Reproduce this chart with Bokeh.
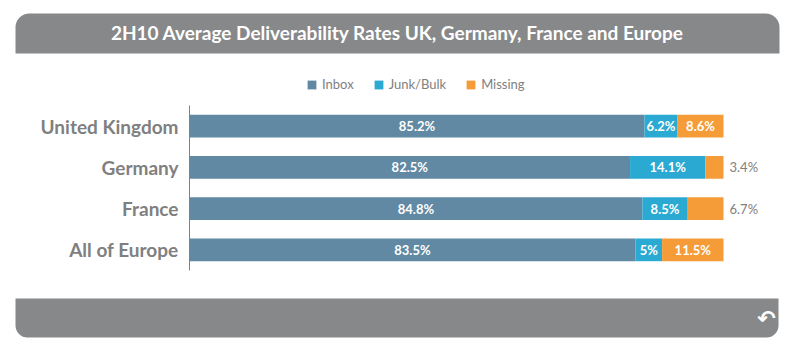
from bokeh.plotting import figure
from bokeh.models import ColumnDataSource, Range1d, BoxAnnotation, Label
from bokeh.core.properties import value
from bokeh.embed import file_html
from bokeh.resources import INLINE

# ---- data ----
categories = ["United Kingdom", "Germany", "France", "All of Europe"]
series = ["Inbox", "Junk/Bulk", "Missing"]
inbox = [85.2, 82.5, 84.8, 83.5]
junk = [6.2, 14.1, 8.5, 5.0]
missing = [8.6, 3.4, 6.7, 11.5]
title_text = "2H10 Average Deliverability Rates UK, Germany, France and Europe"

colors = ["#6189A3", "#2AAAD3", "#F59B37"]
FONT = "Lato"
W, H = 800, 351

pos = list(range(len(categories)))  # row index, 0 at top
source = ColumnDataSource(dict(cat=categories, pos=pos, inbox=inbox, junk=junk, missing=missing))

p = figure(
    width=W, height=H,
    x_range=Range1d(-35.393, 114.42),
    y_range=Range1d(5.464, -3.045),
    output_backend="svg", toolbar_location=None,
    min_border=0, min_border_left=0, min_border_right=0,
    min_border_top=0, min_border_bottom=0,
)
p.outline_line_color = None
p.xgrid.visible = False
p.ygrid.visible = False
p.xaxis.visible = False
p.yaxis.visible = False

GRAY = "#87888A"
# banners (screen units relative to the frame, which is the whole canvas)
p.add_layout(BoxAnnotation(left=15, right=779, top=H - 13, bottom=H - 53,
                           left_units="screen", right_units="screen",
                           top_units="screen", bottom_units="screen",
                           fill_color=GRAY, fill_alpha=1, line_color=None,
                           border_radius=(14, 14, 0, 0), level="underlay"))
p.add_layout(BoxAnnotation(left=15, right=778, top=H - 298, bottom=H - 337,
                           left_units="screen", right_units="screen",
                           top_units="screen", bottom_units="screen",
                           fill_color=GRAY, fill_alpha=1, line_color=None,
                           border_radius=(0, 0, 12, 12), level="underlay"))

renderers = p.hbar_stack(["inbox", "junk", "missing"], y="pos", height=0.55,
                         color=colors, line_color=None, source=source,
                         legend_label=series)

# category axis line and labels
p.segment(x0=[0], y0=[-0.5], x1=[0], y1=[len(categories) - 0.5],
          line_color="#808080", line_width=1)
p.text(x=0, y="pos", text="cat", source=source, x_offset=-11,
       text_color="#808080", text_font=value(FONT), text_font_style="bold",
       text_font_size="19px", text_align="right", text_baseline="middle")

# segment labels
def fmt(v):
    return f"{v:g}%"

in_x, in_t, j_x, j_t = [], [], [], []
m_in_x, m_in_t, m_in_y = [], [], []
m_out_x, m_out_t, m_out_y = [], [], []
for i, a, b, m in zip(pos, inbox, junk, missing):
    in_x.append(a / 2); in_t.append(fmt(a))
    j_x.append(a + b / 2); j_t.append(fmt(b))
    if m >= 7:
        m_in_x.append(a + b + m / 2); m_in_t.append(fmt(m)); m_in_y.append(i)
    else:
        m_out_x.append(a + b + m); m_out_t.append(fmt(m)); m_out_y.append(i)

white_src = ColumnDataSource(dict(x=in_x + j_x + m_in_x,
                                  y=pos + pos + m_in_y,
                                  t=in_t + j_t + m_in_t))
p.text(x="x", y="y", text="t", source=white_src, text_color="white",
       text_font=value(FONT), text_font_style="bold", text_font_size="13px",
       text_align="center", text_baseline="middle")
out_src = ColumnDataSource(dict(x=m_out_x, y=m_out_y, t=m_out_t))
p.text(x="x", y="y", text="t", source=out_src, text_color="#808080",
       text_font=value(FONT), text_font_size="13px", x_offset=6,
       text_align="left", text_baseline="middle")

# legend
lg = p.legend[0]
lg.orientation = "horizontal"
lg.location = (306, H - 92)
lg.margin = 0
lg.padding = 0
lg.glyph_width = 11
lg.glyph_height = 11
lg.label_standoff = 5
lg.spacing = 19
lg.label_text_font = FONT
lg.label_text_font_size = "13px"
lg.label_text_color = "#808080"
lg.border_line_color = None
lg.background_fill_alpha = 0

p.add_layout(Label(x=397, y=H - 32, x_units="screen", y_units="screen",
                   text=title_text, text_color="white", text_font=FONT,
                   text_font_style="bold", text_font_size="19px",
                   text_align="center", text_baseline="middle"))
p.add_layout(Label(x=766, y=H - 318, x_units="screen", y_units="screen",
                   text="\u21b6", text_color="white", text_font="DejaVu Sans",
                   text_font_style="bold", text_font_size="22px",
                   text_align="center", text_baseline="middle"))

open("out.html", "w").write(file_html(p, INLINE))
